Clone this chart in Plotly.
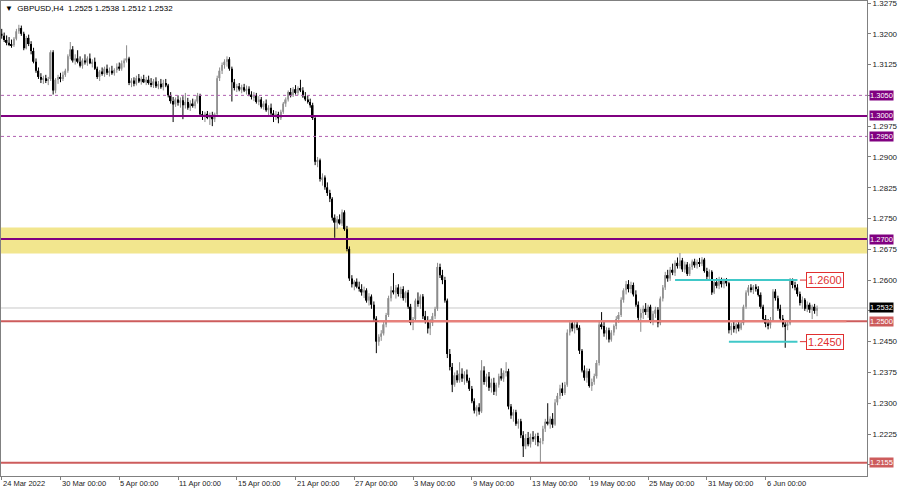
import plotly.graph_objects as go

title_text = "\u25bc\u00a0\u00a0GBPUSD,H4\u00a0\u00a01.2525\u00a01.2538\u00a01.2512\u00a01.2532"

opens = [1.3200,1.3195,1.3185,1.3178,1.3175,1.3172,1.3188,1.3206,1.3214,1.3200,
 1.3165,1.3190,1.3175,1.3158,1.3132,1.3110,1.3095,1.3088,1.3092,1.3085,
 1.3090,1.3155,1.3062,1.3088,1.3095,1.3090,1.3100,1.3110,1.3145,1.3162,
 1.3135,1.3140,1.3132,1.3122,1.3135,1.3130,1.3140,1.3128,1.3132,1.3115,
 1.3095,1.3108,1.3102,1.3115,1.3105,1.3110,1.3104,1.3112,1.3120,1.3115,
 1.3128,1.3135,1.3140,1.3080,1.3086,1.3078,1.3092,1.3084,1.3090,1.3082,
 1.3088,1.3080,1.3075,1.3084,1.3072,1.3078,1.3070,1.3080,1.3074,1.3050,
 1.3036,1.3028,1.3040,1.3032,1.3038,1.3026,1.3034,1.3020,1.3030,1.3024,
 1.3035,1.3050,1.3004,1.2998,1.3005,1.2995,1.3002,1.2992,1.3004,1.3092,
 1.3110,1.3124,1.3132,1.3138,1.3115,1.3082,1.3068,1.3072,1.3064,1.3070,
 1.3062,1.3066,1.3052,1.3046,1.3050,1.3034,1.3040,1.3022,1.3030,1.3014,
 1.3020,1.3006,1.2998,1.3004,1.2994,1.3010,1.3030,1.3040,1.3058,1.3050,
 1.3065,1.3056,1.3068,1.3062,1.3048,1.3040,1.3034,1.3026,1.2995,1.2888,
 1.2892,1.2846,1.2850,1.2826,1.2812,1.2798,1.2752,1.2740,1.2748,1.2738,
 1.2765,1.2724,1.2676,1.2604,1.2590,1.2596,1.2584,1.2578,1.2570,1.2575,
 1.2550,1.2560,1.2540,1.2506,1.2450,1.2462,1.2470,1.2492,1.2515,1.2556,
 1.2575,1.2570,1.2582,1.2566,1.2578,1.2556,1.2570,1.2535,1.2496,1.2505,
 1.2550,1.2542,1.2560,1.2512,1.2500,1.2482,1.2496,1.2512,1.2530,1.2632,
 1.2612,1.2600,1.2550,1.2420,1.2388,1.2345,1.2368,1.2356,1.2372,1.2360,
 1.2370,1.2355,1.2335,1.2305,1.2282,1.2290,1.2280,1.2380,1.2352,1.2365,
 1.2338,1.2350,1.2328,1.2345,1.2366,1.2360,1.2374,1.2378,1.2292,1.2270,
 1.2278,1.2250,1.2256,1.2222,1.2195,1.2215,1.2200,1.2218,1.2212,1.2220,
 1.2205,1.2208,1.2238,1.2255,1.2250,1.2262,1.2248,1.2302,1.2318,1.2336,
 1.2325,1.2345,1.2472,1.2495,1.2482,1.2492,1.2484,1.2428,1.2380,1.2362,
 1.2378,1.2342,1.2352,1.2366,1.2398,1.2492,1.2488,1.2470,1.2478,1.2455,
 1.2472,1.2488,1.2505,1.2515,1.2552,1.2575,1.2590,1.2578,1.2588,1.2565,
 1.2540,1.2508,1.2520,1.2530,1.2522,1.2535,1.2502,1.2518,1.2528,1.2495,
 1.2555,1.2582,1.2612,1.2604,1.2625,1.2618,1.2642,1.2634,1.2648,1.2626,
 1.2638,1.2615,1.2632,1.2645,1.2636,1.2644,1.2640,1.2650,1.2622,1.2608,
 1.2620,1.2570,1.2595,1.2586,1.2600,1.2590,1.2598,1.2592,1.2478,1.2488,
 1.2480,1.2492,1.2482,1.2495,1.2535,1.2570,1.2582,1.2576,1.2584,1.2578,
 1.2564,1.2535,1.2505,1.2494,1.2490,1.2502,1.2572,1.2556,1.2530,1.2506,
 1.2492,1.2488,1.2494,1.2598,1.2588,1.2582,1.2566,1.2544,1.2552,1.2530,
 1.2540,1.2528,1.2535,1.2525]

highs = [1.3212,1.3203,1.3196,1.3192,1.3186,1.3192,1.3212,1.3222,1.3220,1.3205,
 1.3195,1.3198,1.3182,1.3166,1.3140,1.3118,1.3104,1.3098,1.3100,1.3095,
 1.3160,1.3160,1.3092,1.3100,1.3105,1.3108,1.3115,1.3150,1.3180,1.3170,
 1.3150,1.3160,1.3145,1.3140,1.3150,1.3145,1.3152,1.3138,1.3142,1.3120,
 1.3112,1.3118,1.3120,1.3125,1.3118,1.3122,1.3116,1.3128,1.3130,1.3135,
 1.3140,1.3172,1.3144,1.3092,1.3094,1.3098,1.3102,1.3096,1.3100,1.3095,
 1.3098,1.3092,1.3090,1.3094,1.3085,1.3090,1.3088,1.3090,1.3078,1.3058,
 1.3046,1.3045,1.3050,1.3045,1.3048,1.3056,1.3044,1.3038,1.3042,1.3040,
 1.3056,1.3054,1.3012,1.3010,1.3012,1.3008,1.3010,1.3008,1.3098,1.3118,
 1.3130,1.3138,1.3145,1.3143,1.3120,1.3090,1.3078,1.3080,1.3076,1.3078,
 1.3074,1.3072,1.3060,1.3058,1.3056,1.3048,1.3046,1.3036,1.3040,1.3026,
 1.3030,1.3014,1.3012,1.3010,1.3015,1.3034,1.3045,1.3062,1.3068,1.3070,
 1.3075,1.3072,1.3088,1.3070,1.3058,1.3050,1.3042,1.3032,1.3000,1.2900,
 1.2896,1.2860,1.2855,1.2838,1.2820,1.2802,1.2760,1.2756,1.2760,1.2772,
 1.2770,1.2732,1.2682,1.2612,1.2600,1.2604,1.2596,1.2590,1.2584,1.2580,
 1.2568,1.2565,1.2548,1.2512,1.2468,1.2478,1.2498,1.2520,1.2562,1.2585,
 1.2617,1.2588,1.2590,1.2584,1.2585,1.2574,1.2576,1.2542,1.2510,1.2555,
 1.2570,1.2565,1.2566,1.2525,1.2512,1.2505,1.2520,1.2535,1.2642,1.2640,
 1.2625,1.2608,1.2555,1.2432,1.2398,1.2375,1.2380,1.2400,1.2385,1.2378,
 1.2382,1.2362,1.2342,1.2312,1.2295,1.2300,1.2405,1.2390,1.2372,1.2376,
 1.2360,1.2362,1.2350,1.2372,1.2385,1.2380,1.2400,1.2384,1.2298,1.2285,
 1.2284,1.2262,1.2262,1.2232,1.2225,1.2230,1.2226,1.2232,1.2226,1.2228,
 1.2215,1.2245,1.2262,1.2300,1.2268,1.2276,1.2310,1.2325,1.2345,1.2350,
 1.2352,1.2480,1.2502,1.2500,1.2498,1.2500,1.2490,1.2432,1.2392,1.2385,
 1.2384,1.2360,1.2372,1.2405,1.2500,1.2522,1.2498,1.2485,1.2484,1.2478,
 1.2492,1.2512,1.2522,1.2558,1.2580,1.2598,1.2600,1.2596,1.2594,1.2575,
 1.2548,1.2530,1.2538,1.2544,1.2540,1.2540,1.2525,1.2535,1.2534,1.2560,
 1.2588,1.2620,1.2625,1.2632,1.2640,1.2648,1.2655,1.2666,1.2654,1.2645,
 1.2644,1.2640,1.2650,1.2652,1.2650,1.2654,1.2656,1.2654,1.2630,1.2626,
 1.2624,1.2600,1.2605,1.2608,1.2606,1.2604,1.2605,1.2596,1.2495,1.2498,
 1.2496,1.2500,1.2500,1.2540,1.2575,1.2588,1.2590,1.2588,1.2590,1.2585,
 1.2570,1.2540,1.2515,1.2505,1.2510,1.2578,1.2578,1.2562,1.2540,1.2515,
 1.2500,1.2498,1.2605,1.2604,1.2596,1.2590,1.2572,1.2560,1.2556,1.2548,
 1.2545,1.2540,1.2542,1.2538]

lows = [1.3188,1.3180,1.3172,1.3170,1.3166,1.3168,1.3184,1.3200,1.3195,1.3160,
 1.3162,1.3170,1.3150,1.3128,1.3105,1.3090,1.3080,1.3078,1.3080,1.3075,
 1.3085,1.3052,1.3055,1.3078,1.3082,1.3085,1.3095,1.3105,1.3138,1.3130,
 1.3125,1.3128,1.3118,1.3115,1.3125,1.3122,1.3126,1.3118,1.3112,1.3090,
 1.3085,1.3098,1.3095,1.3100,1.3096,1.3100,1.3098,1.3105,1.3110,1.3110,
 1.3118,1.3130,1.3075,1.3070,1.3072,1.3074,1.3080,1.3076,1.3080,1.3075,
 1.3076,1.3070,1.3068,1.3068,1.3065,1.3066,1.3062,1.3070,1.3045,1.3030,
 1.2985,1.3022,1.3025,1.3020,1.2992,1.3018,1.3015,1.3012,1.3020,1.3018,
 1.3030,1.3000,1.2990,1.2985,1.2992,1.2978,1.2975,1.2985,1.2998,1.3085,
 1.3102,1.3115,1.3120,1.3110,1.3035,1.3062,1.3058,1.3060,1.3055,1.3058,
 1.3052,1.3048,1.3040,1.3036,1.3030,1.3026,1.3018,1.3015,1.3010,1.3002,
 1.3000,1.2985,1.2990,1.2982,1.2990,1.3005,1.3022,1.3035,1.3045,1.3046,
 1.3052,1.3050,1.3058,1.3044,1.3036,1.3030,1.3020,1.2990,1.2880,1.2875,
 1.2840,1.2830,1.2820,1.2805,1.2790,1.2745,1.2703,1.2725,1.2735,1.2732,
 1.2720,1.2670,1.2598,1.2582,1.2575,1.2580,1.2572,1.2562,1.2556,1.2545,
 1.2538,1.2530,1.2500,1.2422,1.2440,1.2452,1.2465,1.2485,1.2510,1.2548,
 1.2565,1.2555,1.2560,1.2556,1.2550,1.2545,1.2530,1.2490,1.2478,1.2500,
 1.2535,1.2530,1.2505,1.2494,1.2470,1.2466,1.2488,1.2505,1.2525,1.2605,
 1.2590,1.2545,1.2410,1.2380,1.2327,1.2340,1.2350,1.2350,1.2352,1.2345,
 1.2350,1.2330,1.2300,1.2275,1.2268,1.2272,1.2276,1.2345,1.2340,1.2330,
 1.2326,1.2320,1.2318,1.2338,1.2355,1.2352,1.2365,1.2285,1.2262,1.2255,
 1.2245,1.2238,1.2215,1.2169,1.2188,1.2195,1.2192,1.2206,1.2198,1.2195,
 1.2155,1.2200,1.2230,1.2246,1.2238,1.2240,1.2245,1.2295,1.2310,1.2318,
 1.2320,1.2340,1.2465,1.2475,1.2470,1.2478,1.2420,1.2375,1.2355,1.2350,
 1.2338,1.2330,1.2345,1.2360,1.2392,1.2480,1.2462,1.2455,1.2448,1.2450,
 1.2465,1.2480,1.2496,1.2510,1.2545,1.2565,1.2570,1.2568,1.2560,1.2535,
 1.2500,1.2474,1.2505,1.2515,1.2508,1.2495,1.2490,1.2508,1.2485,1.2490,
 1.2548,1.2576,1.2596,1.2598,1.2612,1.2610,1.2628,1.2628,1.2620,1.2618,
 1.2610,1.2610,1.2625,1.2630,1.2628,1.2632,1.2634,1.2618,1.2600,1.2600,
 1.2564,1.2566,1.2580,1.2578,1.2582,1.2580,1.2585,1.2470,1.2466,1.2472,
 1.2470,1.2475,1.2478,1.2490,1.2530,1.2562,1.2570,1.2566,1.2572,1.2560,
 1.2530,1.2500,1.2485,1.2480,1.2482,1.2498,1.2550,1.2525,1.2500,1.2485,
 1.2435,1.2478,1.2490,1.2580,1.2575,1.2560,1.2538,1.2530,1.2525,1.2522,
 1.2520,1.2505,1.2518,1.2512]

closes = [1.3195,1.3185,1.3178,1.3175,1.3172,1.3188,1.3206,1.3214,1.3200,1.3165,
 1.3190,1.3175,1.3158,1.3132,1.3110,1.3095,1.3088,1.3092,1.3085,1.3090,
 1.3155,1.3062,1.3088,1.3095,1.3090,1.3100,1.3110,1.3145,1.3162,1.3135,
 1.3140,1.3132,1.3122,1.3135,1.3130,1.3140,1.3128,1.3132,1.3115,1.3095,
 1.3108,1.3102,1.3115,1.3105,1.3110,1.3104,1.3112,1.3120,1.3115,1.3128,
 1.3135,1.3140,1.3080,1.3086,1.3078,1.3092,1.3084,1.3090,1.3082,1.3088,
 1.3080,1.3075,1.3084,1.3072,1.3078,1.3070,1.3080,1.3074,1.3050,1.3036,
 1.3028,1.3040,1.3032,1.3038,1.3026,1.3034,1.3020,1.3030,1.3024,1.3035,
 1.3050,1.3004,1.2998,1.3005,1.2995,1.3002,1.2992,1.3004,1.3092,1.3110,
 1.3124,1.3132,1.3138,1.3115,1.3082,1.3068,1.3072,1.3064,1.3070,1.3062,
 1.3066,1.3052,1.3046,1.3050,1.3034,1.3040,1.3022,1.3030,1.3014,1.3020,
 1.3006,1.2998,1.3004,1.2994,1.3010,1.3030,1.3040,1.3058,1.3050,1.3065,
 1.3056,1.3068,1.3062,1.3048,1.3040,1.3034,1.3026,1.2995,1.2888,1.2892,
 1.2846,1.2850,1.2826,1.2812,1.2798,1.2752,1.2740,1.2748,1.2738,1.2765,
 1.2724,1.2676,1.2604,1.2590,1.2596,1.2584,1.2578,1.2570,1.2575,1.2550,
 1.2560,1.2540,1.2506,1.2450,1.2462,1.2470,1.2492,1.2515,1.2556,1.2575,
 1.2570,1.2582,1.2566,1.2578,1.2556,1.2570,1.2535,1.2496,1.2505,1.2550,
 1.2542,1.2560,1.2512,1.2500,1.2482,1.2496,1.2512,1.2530,1.2632,1.2612,
 1.2600,1.2550,1.2420,1.2388,1.2345,1.2368,1.2356,1.2372,1.2360,1.2370,
 1.2355,1.2335,1.2305,1.2282,1.2290,1.2280,1.2380,1.2352,1.2365,1.2338,
 1.2350,1.2328,1.2345,1.2366,1.2360,1.2374,1.2378,1.2292,1.2270,1.2278,
 1.2250,1.2256,1.2222,1.2195,1.2215,1.2200,1.2218,1.2212,1.2220,1.2205,
 1.2208,1.2238,1.2255,1.2250,1.2262,1.2248,1.2302,1.2318,1.2336,1.2325,
 1.2345,1.2472,1.2495,1.2482,1.2492,1.2484,1.2428,1.2380,1.2362,1.2378,
 1.2342,1.2352,1.2366,1.2398,1.2492,1.2488,1.2470,1.2478,1.2455,1.2472,
 1.2488,1.2505,1.2515,1.2552,1.2575,1.2590,1.2578,1.2588,1.2565,1.2540,
 1.2508,1.2520,1.2530,1.2522,1.2535,1.2502,1.2518,1.2528,1.2495,1.2555,
 1.2582,1.2612,1.2604,1.2625,1.2618,1.2642,1.2634,1.2648,1.2626,1.2638,
 1.2615,1.2632,1.2645,1.2636,1.2644,1.2640,1.2650,1.2622,1.2608,1.2620,
 1.2570,1.2595,1.2586,1.2600,1.2590,1.2598,1.2592,1.2478,1.2488,1.2480,
 1.2492,1.2482,1.2495,1.2535,1.2570,1.2582,1.2576,1.2584,1.2578,1.2564,
 1.2535,1.2505,1.2494,1.2490,1.2502,1.2572,1.2556,1.2530,1.2506,1.2492,
 1.2488,1.2494,1.2598,1.2588,1.2582,1.2566,1.2544,1.2552,1.2530,1.2540,
 1.2528,1.2535,1.2525,1.2532]

date_tick_bars = [0, 24, 48, 72, 96, 120, 144, 168, 192, 216, 240, 264, 288, 312]
date_tick_labels = ["24 Mar 2022", "30 Mar 00:00", "5 Apr 00:00", "11 Apr 00:00",
                    "15 Apr 00:00", "21 Apr 00:00", "27 Apr 00:00", "3 May 00:00",
                    "9 May 00:00", "13 May 00:00", "19 May 00:00", "25 May 00:00",
                    "31 May 00:00", "6 Jun 00:00"]

price_ticks = [1.3275, 1.3200, 1.3125, 1.3050, 1.2975, 1.2900, 1.2825, 1.2750,
               1.2675, 1.2600, 1.2525, 1.2450, 1.2375, 1.2300, 1.2225, 1.2150]
# ticks whose text sits under a coloured price label
covered_ticks = [1.3050, 1.2525, 1.2150]

purple_solid_levels = [1.3000, 1.2700]
purple_dotted_levels = [1.3050, 1.2950]
red_levels = [1.2500, 1.2155]
current_price = 1.2532
zone_bounds = [1.2665, 1.2728]

axis_label_levels = [1.3050, 1.3000, 1.2950, 1.2700, 1.2532, 1.2500, 1.2155]
axis_label_bg = ["#800080", "#800080", "#800080", "#800080", "#000000", "#cd5c5c", "#cd5c5c"]

range_levels = [1.2600, 1.2450]
range_start_bars = [275, 297]
range_end_bars = [325, 325]
range_label_bar = 328.6
red_trend_start_bar = 154

FONT = "Liberation Sans"
bars = list(range(len(closes)))

fig = go.Figure()

body_base = [min(o, c) for o, c in zip(opens, closes)]
body_h = [abs(c - o) for o, c in zip(opens, closes)]
body_col = ["#a6a6a6" if c >= o else "#000000" for o, c in zip(opens, closes)]

for bull, col in [(True, "#8a8a8a"), (False, "#000000")]:
    wx, wy = [], []
    for i, (o, h, l, c) in enumerate(zip(opens, highs, lows, closes)):
        if (c >= o) == bull:
            wx += [i, i, None]
            wy += [l, h, None]
    fig.add_trace(go.Scatter(x=wx, y=wy, mode="lines", line=dict(color=col, width=1),
                             hoverinfo="skip", showlegend=False))

fig.add_trace(go.Bar(x=bars, y=body_h, base=body_base, width=0.62,
                     marker=dict(color=body_col, line=dict(width=0)),
                     hoverinfo="skip", showlegend=False))

shapes = []
shapes.append(dict(type="rect", xref="paper", x0=0, x1=1, yref="y",
                   y0=zone_bounds[0], y1=zone_bounds[1],
                   fillcolor="#f2e68e", line=dict(width=0), layer="below"))
shapes.append(dict(type="line", xref="paper", x0=0, x1=1, yref="y",
                   y0=current_price, y1=current_price,
                   line=dict(color="#c8c8c8", width=1), layer="below"))
for lv in purple_dotted_levels:
    shapes.append(dict(type="line", xref="paper", x0=0, x1=1, yref="y", y0=lv, y1=lv,
                       line=dict(color="#b060b0", width=1, dash="dot"), layer="above"))
for lv in purple_solid_levels:
    shapes.append(dict(type="line", xref="paper", x0=0, x1=1, yref="y", y0=lv, y1=lv,
                       line=dict(color="#800080", width=2), layer="above"))
for lv in red_levels:
    shapes.append(dict(type="line", xref="paper", x0=0, x1=1, yref="y", y0=lv, y1=lv,
                       line=dict(color="#cd5c5c", width=2), layer="above"))
shapes.append(dict(type="line", xref="x", x0=red_trend_start_bar, x1=345, yref="y",
                   y0=red_levels[0], y1=red_levels[0],
                   line=dict(color="#e8807a", width=2), layer="above"))
for lv, xs, xe in zip(range_levels, range_start_bars, range_end_bars):
    shapes.append(dict(type="line", xref="x", x0=xs, x1=xe, yref="y", y0=lv, y1=lv,
                       line=dict(color="#40c8c8", width=2), layer="above"))
    shapes.append(dict(type="line", xref="x", x0=xe + 1, x1=range_label_bar, yref="y",
                       y0=lv, y1=lv, line=dict(color="#e03030", width=1), layer="above"))

annotations = []
annotations.append(dict(xref="paper", yref="paper", x=0, y=1, xanchor="left", yanchor="top",
                        xshift=2, yshift=-1, showarrow=False, text=title_text,
                        font=dict(family=FONT, size=8, color="#000000")))
for b, t in zip(date_tick_bars, date_tick_labels):
    annotations.append(dict(xref="x", yref="paper", x=b, y=0, xanchor="left", yanchor="top",
                            xshift=-1, yshift=-1, showarrow=False, text=t,
                            font=dict(family=FONT, size=7.5, color="#222222")))
for lv, bg in zip(axis_label_levels, axis_label_bg):
    annotations.append(dict(xref="paper", yref="y", x=1, y=lv, xanchor="left", yanchor="middle",
                            xshift=2, showarrow=False, text=f"{lv:.4f}", bgcolor=bg,
                            borderpad=0, font=dict(family=FONT, size=7.5, color="#ffffff")))
for lv in range_levels:
    annotations.append(dict(xref="x", yref="y", x=range_label_bar, y=lv, xanchor="left",
                            yanchor="middle", showarrow=False, text=f"{lv:.4f}",
                            bgcolor="#ffffff", bordercolor="#e03030", borderwidth=1, borderpad=1,
                            font=dict(family=FONT, size=11, color="#e03030")))

fig.update_layout(
    width=900, height=488,
    margin=dict(l=1, r=33, t=1, b=12, autoexpand=False),
    paper_bgcolor="#ffffff", plot_bgcolor="#ffffff",
    showlegend=False, shapes=shapes, annotations=annotations,
    font=dict(family=FONT, size=8, color="#222222"),
)
fig.update_xaxes(range=[-0.3, 353.4], showgrid=False, zeroline=False,
                 showline=True, linecolor="#808080", linewidth=1, mirror=True,
                 tickvals=date_tick_bars, ticks="outside", ticklen=3, tickcolor="#808080",
                 showticklabels=False, fixedrange=True)
fig.update_yaxes(range=[1.21227, 1.32799], side="right", showgrid=False, zeroline=False,
                 showline=True, linecolor="#808080", linewidth=1, mirror=True,
                 tickvals=price_ticks,
                 ticktext=["" if v in covered_ticks else f"{v:.4f}" for v in price_ticks],
                 ticks="outside", ticklen=3, tickcolor="#808080", ticklabeloverflow="allow",
                 tickfont=dict(family=FONT, size=8, color="#222222"), automargin=False)

fig.write_html("out.html", config={"displayModeBar": False},
               post_script="document.body.style.margin='0px';document.body.style.overflow='hidden';")
